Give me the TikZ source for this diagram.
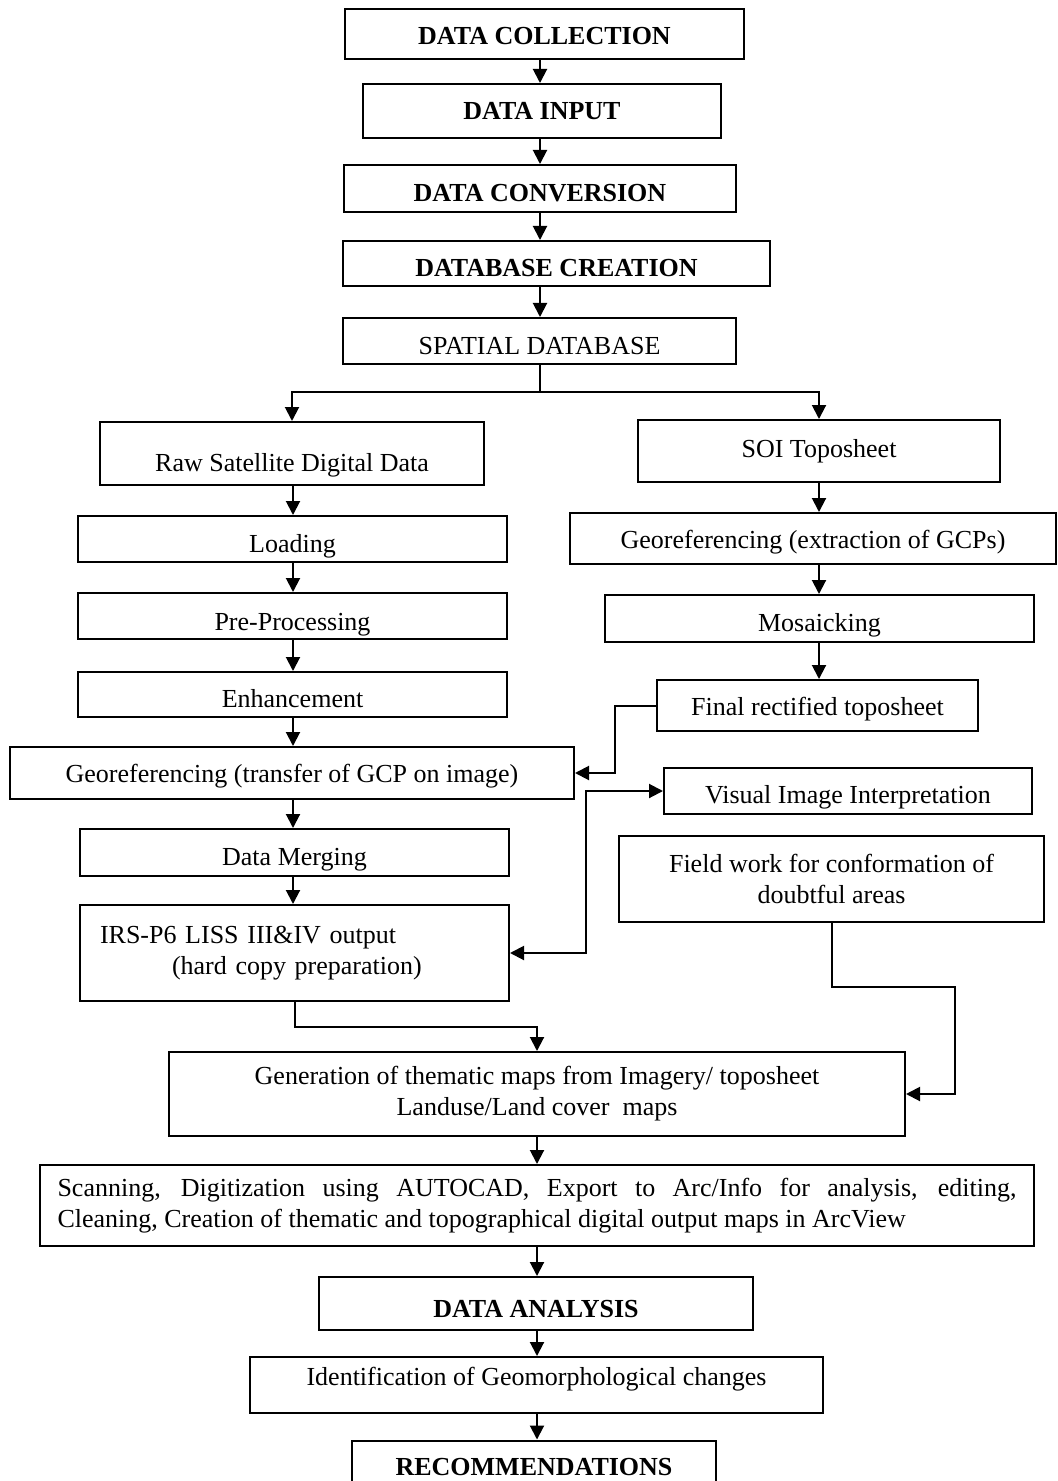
\documentclass[tikz,border=0pt]{standalone}
\usepackage{fontspec}
\setmainfont{Liberation Serif}
\usetikzlibrary{arrows.meta}

\begin{document}
\begin{tikzpicture}[x=0.5pt, y=-0.5pt,
    every node/.style={font=\fontsize{13pt}{15.5pt}\selectfont},
    box/.style={draw, line width=1pt, inner sep=0pt},
    hdr/.style={font=\fontsize{13pt}{15.5pt}\selectfont\bfseries},
    txtdrop/.style={text height=#1, text depth=0pt},
    arr/.style={line width=1pt, -{Triangle[length=7pt, width=7pt]}},
    arrboth/.style={line width=1pt, {Triangle[length=7pt, width=7pt]}-{Triangle[length=7pt, width=7pt]}}]
            \useasboundingbox (0,0) rectangle (1057,1481);

            % Main chain at the top
            \node[box, hdr, txtdrop=11pt, minimum width=199.5pt, minimum height=25pt]
                (coll) at (544.5,34) {DATA COLLECTION};
            \node[box, hdr, txtdrop=9pt, minimum width=179pt, minimum height=27pt]
                (input) at (542,111) {DATA INPUT};
            \node[box, hdr, txtdrop=13.5pt, minimum width=196pt, minimum height=23.5pt]
                (conv) at (540,188.5) {DATA CONVERSION};
            \node[box, hdr, txtdrop=13.5pt, minimum width=213.5pt, minimum height=22.5pt]
                (dbc) at (556.5,263.5) {DATABASE CREATION};
            \node[box, txtdrop=13pt, minimum width=196.5pt, minimum height=23pt]
                (spatial) at (539.5,341) {SPATIAL DATABASE};

            % Satellite data branch (left)
            \node[box, txtdrop=17.5pt, minimum width=192pt, minimum height=31.5pt]
                (raw) at (292,453.5) {Raw Satellite Digital Data};
            \node[box, txtdrop=13pt, minimum width=214.5pt, minimum height=23pt]
                (load) at (292.5,539) {Loading};
            \node[box, txtdrop=14pt, minimum width=214.5pt, minimum height=23pt]
                (prep) at (292.5,616) {Pre-Processing};
            \node[box, txtdrop=12.5pt, minimum width=214.5pt, minimum height=22.5pt]
                (enh) at (292.5,694.5) {Enhancement};
            \node[box, txtdrop=9pt, minimum width=282pt, minimum height=26pt]
                (georefB) at (292,773) {Georeferencing (transfer of GCP on image)};
            \node[box, txtdrop=12.5pt, minimum width=214.5pt, minimum height=23.5pt]
                (merge) at (294.5,852.5) {Data Merging};
            \node[box, align=left, inner xsep=10pt, text width=194.5pt, minimum height=48pt]
                (irs) at (294.5,953) {IRS-P6 LISS III\&IV output\\\hspace*{36pt}(hard copy preparation)};

            % Toposheet branch (right)
            \node[box, txtdrop=6pt, minimum width=181pt, minimum height=31pt]
                (soi) at (819,451) {SOI Toposheet};
            \node[box, txtdrop=9.5pt, minimum width=243pt, minimum height=25.5pt]
                (georefA) at (813,538.5) {Georeferencing (extraction of GCPs)};
            \node[box, txtdrop=12.5pt, minimum width=214.5pt, minimum height=23.5pt]
                (mosaic) at (819.5,618.5) {Mosaicking};
            \node[box, txtdrop=9.5pt, minimum width=160.5pt, minimum height=25.5pt]
                (final) at (817.5,705.5) {Final rectified toposheet};
            \node[box, txtdrop=12pt, minimum width=184pt, minimum height=23pt]
                (visual) at (848,791) {Visual Image Interpretation};
            \node[box, align=center, minimum width=212.5pt, minimum height=43pt]
                (field) at (831.5,879) {Field work for conformation of\\doubtful areas};

            % Output part
            \node[box, align=center, minimum width=368pt, minimum height=42pt]
                (gen) at (537,1094) {Generation of thematic maps from Imagery/ toposheet\\Landuse/Land cover~~maps};
            \node[box, align=justify, inner xsep=8.75pt, text width=479.5pt, minimum height=40.5pt]
                (scan) at (537,1205.5) {Scanning, Digitization using AUTOCAD, Export to Arc/Info for analysis, editing,\linebreak Cleaning, Creation of thematic and topographical digital output maps in ArcView};
            \node[box, hdr, txtdrop=13.5pt, minimum width=217pt, minimum height=26.5pt]
                (analysis) at (536,1303.5) {DATA ANALYSIS};
            \node[box, txtdrop=0pt, minimum width=286.5pt, minimum height=28pt]
                (ident) at (536.5,1385) {Identification of Geomorphological changes};
            \node[box, hdr, txtdrop=5pt, minimum width=182pt, minimum height=29.5pt]
                (recom) at (534,1470) {RECOMMENDATIONS};

            % Helper coordinates for the straight runs
            \coordinate (ax) at (540,0);
            \coordinate (lx) at (293,0);
            \coordinate (rx) at (819,0);
            \coordinate (mx) at (537,0);
            \coordinate (split) at (540,392);
            \coordinate (fbend) at (955,987);

            % Arrows down the top chain
            \draw[arr] (coll.south -| ax) -- (input.north -| ax);
            \draw[arr] (input.south -| ax) -- (conv.north -| ax);
            \draw[arr] (conv.south -| ax) -- (dbc.north -| ax);
            \draw[arr] (dbc.south -| ax) -- (spatial.north -| ax);
            \draw[line width=1pt] (spatial.south -| ax) -- (split);
            \draw[arr] (split) -| (raw.north);
            \draw[arr] (split) -| (soi.north);

            % Left column
            \draw[arr] (raw.south -| lx) -- (load.north -| lx);
            \draw[arr] (load.south -| lx) -- (prep.north -| lx);
            \draw[arr] (prep.south -| lx) -- (enh.north -| lx);
            \draw[arr] (enh.south -| lx) -- (georefB.north -| lx);
            \draw[arr] (georefB.south -| lx) -- (merge.north -| lx);
            \draw[arr] (merge.south -| lx) -- (irs.north -| lx);

            % Right column
            \draw[arr] (soi.south -| rx) -- (georefA.north -| rx);
            \draw[arr] (georefA.south -| rx) -- (mosaic.north -| rx);
            \draw[arr] (mosaic.south -| rx) -- (final.north -| rx);

            % Cross links
            \draw[arr] (final.west) -- ++(-41,0) |- (georefB.east);
            \draw[arrboth] (visual.west) -- ++(-77,0) |- (irs.east);
            \draw[arr] (irs.south) -- ++(0,25) -| (gen.north);
            \draw[arr] (field.south) |- (fbend) |- (gen.east);

            % Bottom chain
            \draw[arr] (gen.south -| mx) -- (scan.north -| mx);
            \draw[arr] (scan.south -| mx) -- (analysis.north -| mx);
            \draw[arr] (analysis.south -| mx) -- (ident.north -| mx);
            \draw[arr] (ident.south -| mx) -- (recom.north -| mx);
        \end{tikzpicture}
\end{document}
